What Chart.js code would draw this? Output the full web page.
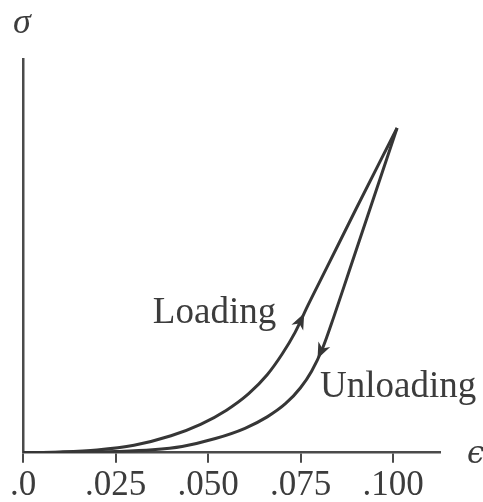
<!DOCTYPE html>
<html>
<head>
<meta charset="utf-8">
<script src="https://cdn.jsdelivr.net/npm/chart.js@4/dist/chart.umd.min.js"></script>
<style>
  html, body { margin: 0; padding: 0; background: #fff; }
  #wrap { width: 483px; height: 502px; position: relative; }
</style>
</head>
<body>
<div id="wrap"><canvas id="c" width="483" height="502" style="width:483px;height:502px"></canvas></div>
<script>
// Strain axis ticks
const strainTicks = [0, 0.025, 0.05, 0.075, 0.1];
const strainTickLabels = ['.0', '.025', '.050', '.075', '.100'];

// Loading branch (strain, stress in relative units)
const loadingStrain = [0, 0.010, 0.020, 0.030, 0.040, 0.048, 0.055, 0.061, 0.066, 0.070, 0.0735, 0.077, 0.082, 0.090, 0.1011];
const loadingStress = [0, 0.002, 0.007, 0.019, 0.043, 0.072, 0.108, 0.150, 0.198, 0.250, 0.305, 0.374, 0.468, 0.619, 0.8248];

// Unloading branch
const unloadingStrain = [0, 0.015, 0.025, 0.035, 0.043, 0.052, 0.060, 0.066, 0.071, 0.075, 0.078, 0.081, 0.084, 0.088, 0.1011];
const unloadingStress = [0, 0.001, 0.003, 0.0075, 0.016, 0.036, 0.062, 0.091, 0.125, 0.165, 0.207, 0.266, 0.345, 0.457, 0.8248];

const INK = '#363636';
const TEXT = '#3c3c3c';
const AXIS = '#4a4a4a';
const SERIF = '"Liberation Serif", "DejaVu Serif", serif';

function toPoints(xs, ys) { return xs.map((x, i) => ({ x: x, y: ys[i] })); }

function stressAt(xs, ys, x) {
  for (let i = 1; i < xs.length; i++) {
    if (x <= xs[i]) {
      const t = (x - xs[i - 1]) / (xs[i] - xs[i - 1]);
      return ys[i - 1] + t * (ys[i] - ys[i - 1]);
    }
  }
  return ys[ys.length - 1];
}

// Arrowhead sitting on a branch, pointing from backX toward tipX
function drawArrow(ctx, xs, ys, xScale, yScale, tipX, backX) {
  const tx = xScale.getPixelForValue(tipX), ty = yScale.getPixelForValue(stressAt(xs, ys, tipX));
  const bx = xScale.getPixelForValue(backX), by = yScale.getPixelForValue(stressAt(xs, ys, backX));
  const ang = Math.atan2(ty - by, tx - bx);
  const L = 16, W = 6.5;
  ctx.save();
  ctx.translate(tx, ty);
  ctx.rotate(ang);
  ctx.fillStyle = INK;
  ctx.beginPath();
  ctx.moveTo(0, 0);
  ctx.lineTo(-L, -W);
  ctx.lineTo(-L * 0.72, 0);
  ctx.lineTo(-L, W);
  ctx.closePath();
  ctx.fill();
  ctx.restore();
}

const annotations = {
  id: 'annotations',
  afterDatasetsDraw(chart) {
    const ctx = chart.ctx;
    const xs = chart.scales.x, ys = chart.scales.y;
    const area = chart.chartArea;
    ctx.save();
    ctx.fillStyle = TEXT;
    ctx.textAlign = 'left';
    ctx.textBaseline = 'alphabetic';

    // branch labels
    ctx.font = '37px ' + SERIF;
    ctx.fillText('Loading', xs.getPixelForValue(0.0351), ys.getPixelForValue(0.3294));
    ctx.fillText('Unloading', xs.getPixelForValue(0.0803), ys.getPixelForValue(0.1415));

    // axis symbols
    ctx.font = 'italic 36px ' + SERIF;
    ctx.fillText('σ', area.left - 10, area.top - 26);
    ctx.font = 'italic 31px "DejaVu Serif", serif';
    ctx.fillText('ϵ', area.right + 27, area.bottom + 10);

    // direction arrows
    ctx.fillStyle = INK;
    drawArrow(ctx, loadingStrain, loadingStress, xs, ys, 0.0760, 0.0745);
    drawArrow(ctx, unloadingStrain, unloadingStress, xs, ys, 0.0796, 0.0811);
    ctx.restore();
  }
};

new Chart(document.getElementById('c'), {
  type: 'line',
  data: {
    datasets: [
      {
        label: 'Loading',
        data: toPoints(loadingStrain, loadingStress),
        borderColor: INK,
        borderWidth: 3,
        pointRadius: 0,
        cubicInterpolationMode: 'monotone',
        fill: false
      },
      {
        label: 'Unloading',
        data: toPoints(unloadingStrain, unloadingStress),
        borderColor: INK,
        borderWidth: 3,
        pointRadius: 0,
        cubicInterpolationMode: 'monotone',
        fill: false
      }
    ]
  },
  options: {
    responsive: false,
    animation: false,
    devicePixelRatio: 1,
    layout: { padding: { left: 23, top: 59, right: 43, bottom: 0 } },
    plugins: { legend: { display: false }, tooltip: { enabled: false } },
    scales: {
      x: {
        type: 'linear',
        min: 0,
        max: 0.1127,
        afterBuildTicks(scale) { scale.ticks = strainTicks.map(v => ({ value: v })); },
        afterFit(scale) { scale.height = 49.3; },
        grid: { drawOnChartArea: false, drawTicks: true, tickLength: 10, color: AXIS, lineWidth: 2 },
        border: { display: true, color: AXIS, width: 2.5 },
        ticks: {
          autoSkip: false,
          maxRotation: 0,
          padding: 2,
          color: TEXT,
          font: { family: SERIF, size: 35 },
          callback: (value, index) => strainTickLabels[index]
        }
      },
      y: {
        type: 'linear',
        min: 0,
        max: 1,
        afterFit(scale) { scale.width = 0; },
        grid: { drawOnChartArea: false, drawTicks: false },
        border: { display: true, color: AXIS, width: 2.5 },
        ticks: { display: false }
      }
    }
  },
  plugins: [annotations]
});
</script>
</body>
</html>
